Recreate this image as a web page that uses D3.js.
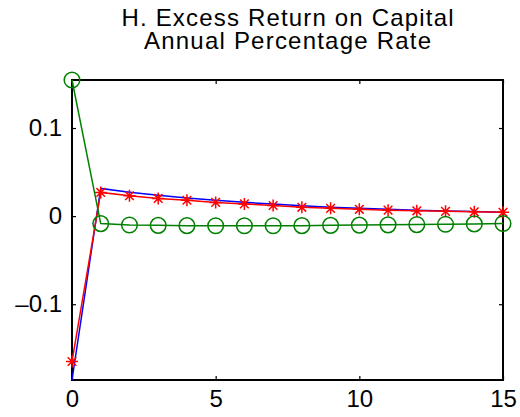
<!DOCTYPE html>
<html>
<head>
<meta charset="utf-8">
<script src="https://cdn.jsdelivr.net/npm/d3@7"></script>
<style>
  body { margin: 0; background: #fff; }
  text { font-family: "Liberation Sans", Arial, Helvetica, sans-serif; }
</style>
</head>
<body>
<script>
// quarters after the shock
const periods = d3.range(0, 16);

const blueSeries = [-0.186, 0.0314, 0.0272, 0.0236, 0.0206, 0.0180, 0.0157, 0.0137,
                    0.0119, 0.0102, 0.0088, 0.0077, 0.0067, 0.0059, 0.0052, 0.0045];
const redSeries = [-0.165, 0.0269, 0.0231, 0.0201, 0.0180, 0.0156, 0.0139, 0.0121,
                   0.0100, 0.0088, 0.0077, 0.0068, 0.0060, 0.0054, 0.0049, 0.0043];
const greenSeries = [0.1545, -0.0085, -0.0100, -0.0105, -0.0108, -0.0110, -0.0110, -0.0110,
                     -0.0108, -0.0105, -0.0102, -0.0099, -0.0096, -0.0092, -0.0088, -0.0084];

const xTicks = [0, 5, 10, 15];
const yTicks = [-0.1, 0, 0.1];
const titleLines = ["H. Excess Return on Capital", "Annual Percentage Rate"];

const W = 520, H = 417;
const margin = {left: 72, top: 80, right: 17, bottom: 37};
const w = W - margin.left - margin.right;
const h = H - margin.top - margin.bottom;

const svg = d3.select("body").append("svg")
  .attr("width", W)
  .attr("height", H);

const g = svg.append("g")
  .attr("transform", `translate(${margin.left},${margin.top})`);

const xScale = d3.scaleLinear().domain([0, 15]).range([0, w]);
const yScale = d3.scaleLinear().domain([-0.186, 0.1545]).range([h, 0]);

const fmt = d => d === 0 ? "0" : (d < 0 ? "\u2013" : "") + Math.abs(d).toString();

// axes, ticks pointing inward
const xAxis = d3.axisBottom(xScale).tickValues(xTicks).tickSize(-4).tickSizeOuter(0).tickPadding(10);
const yAxis = d3.axisLeft(yScale).tickValues(yTicks).tickSize(-4).tickSizeOuter(0).tickPadding(10).tickFormat(fmt);

g.append("g").attr("transform", `translate(0,${h})`).call(xAxis);
g.append("g").call(yAxis);
g.append("g").call(d3.axisTop(xScale).tickValues(xTicks).tickSize(-4).tickSizeOuter(0).tickFormat(""));
g.append("g").attr("transform", `translate(${w},0)`)
  .call(d3.axisRight(yScale).tickValues(yTicks).tickSize(-4).tickSizeOuter(0).tickFormat(""));

g.selectAll(".domain").remove();
g.selectAll(".tick line").attr("stroke", "#000").attr("stroke-width", 1.2);
g.selectAll(".tick text")
  .attr("fill", "#000")
  .style("font-size", "24px");

g.append("rect")
  .attr("width", w)
  .attr("height", h)
  .attr("fill", "none")
  .attr("stroke", "#000")
  .attr("stroke-width", 2);

const line = d3.line()
  .x((d, i) => xScale(periods[i]))
  .y(d => yScale(d));

// blue
g.append("path")
  .datum(blueSeries)
  .attr("d", line)
  .attr("fill", "none")
  .attr("stroke", "#0000ff")
  .attr("stroke-width", 1.5);

// red with stars
g.append("path")
  .datum(redSeries)
  .attr("d", line)
  .attr("fill", "none")
  .attr("stroke", "#ff0000")
  .attr("stroke-width", 1.5);

const star = "M-6,0H6M0,-6V6M-4.3,-4.3L4.3,4.3M-4.3,4.3L4.3,-4.3";
g.selectAll(".star")
  .data(redSeries)
  .enter()
  .append("path")
  .attr("class", "star")
  .attr("d", star)
  .attr("transform", (d, i) => `translate(${xScale(periods[i])},${yScale(d)})`)
  .attr("fill", "none")
  .attr("stroke", "#ff0000")
  .attr("stroke-width", 1.5);

// green with circles
g.append("path")
  .datum(greenSeries)
  .attr("d", line)
  .attr("fill", "none")
  .attr("stroke", "#008000")
  .attr("stroke-width", 1.5);

g.selectAll(".circ")
  .data(greenSeries)
  .enter()
  .append("circle")
  .attr("class", "circ")
  .attr("cx", (d, i) => xScale(periods[i]))
  .attr("cy", d => yScale(d))
  .attr("r", 7.8)
  .attr("fill", "none")
  .attr("stroke", "#008000")
  .attr("stroke-width", 1.5);

// title: one text, two lines
const titleWidths = [332, 287];
const title = svg.append("text")
  .attr("text-anchor", "middle")
  .style("font-size", "24px")
  .attr("fill", "#000");

title.selectAll("tspan")
  .data(titleLines)
  .enter()
  .append("tspan")
  .attr("x", margin.left + w / 2)
  .attr("y", (d, i) => 26 + i * 23)
  .attr("textLength", (d, i) => titleWidths[i])
  .attr("lengthAdjust", "spacing")
  .text(d => d);
</script>
</body>
</html>
